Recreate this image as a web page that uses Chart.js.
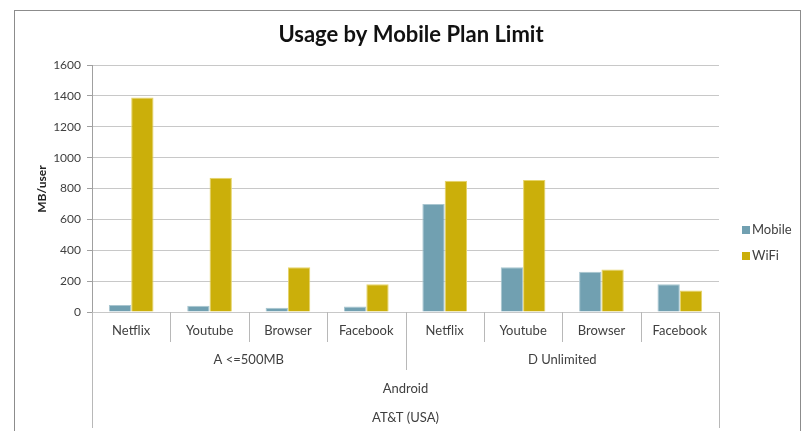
<!DOCTYPE html>
<html>
<head>
<meta charset="utf-8">
<script src="https://cdn.jsdelivr.net/npm/chart.js@4"></script>
<style>
  html, body { margin: 0; padding: 0; background: #fff; }
  #wrap { width: 807px; height: 431px; position: relative; }
</style>
</head>
<body>
<div id="wrap"><canvas id="chart"></canvas></div>
<script>
const apps = ['Netflix', 'Youtube', 'Browser', 'Facebook', 'Netflix', 'Youtube', 'Browser', 'Facebook'];
const plans = ['A <=500MB', 'D Unlimited'];
const platform = 'Android';
const carrier = 'AT&T (USA)';
const mobileUsage = [45, 40, 28, 35, 700, 290, 260, 180];
const wifiUsage = [1390, 870, 290, 180, 850, 855, 275, 140];
const yTicks = [0, 200, 400, 600, 800, 1000, 1200, 1400, 1600];

const FONT = 'Lato, Carlito, "Open Sans", sans-serif';
const TEXT = '#404040';
const LINE = '#b8b8b8';

// frame, title, axis title, legend and the nested category labels
const decorations = {
    id: 'decorations',
    beforeDraw(chart) {
        const ctx = chart.ctx;
        ctx.save();
        ctx.fillStyle = '#fff';
        ctx.fillRect(0, 0, chart.width, chart.height);
        ctx.strokeStyle = '#8c8c8c';
        ctx.lineWidth = 1;
        ctx.strokeRect(14.5, 10.5, 786, 430);
        ctx.restore();
    },
    afterDraw(chart) {
        const ctx = chart.ctx;
        const x = chart.scales.x;
        const area = chart.chartArea;
        const n = apps.length;
        const edge = i => area.left + (area.right - area.left) * i / n;

        ctx.save();
        ctx.fillStyle = '#111';
        ctx.font = 'bold 22px ' + FONT;
        ctx.textAlign = 'center';
        ctx.textBaseline = 'middle';
        ctx.fillText('Usage by Mobile Plan Limit', 411, 35);

        ctx.translate(42, 189);
        ctx.rotate(-Math.PI / 2);
        ctx.font = 'bold 12px ' + FONT;
        ctx.fillStyle = '#222';
        ctx.fillText('MB/user', 0, 0);
        ctx.restore();

        ctx.save();
        ctx.strokeStyle = LINE;
        ctx.lineWidth = 1;
        const half = Math.round(n / 2);
        for (let i = 0; i <= n; i++) {
            const px = Math.round(edge(i)) + 0.5;
            let bottom = area.bottom + 30;
            if (i === 0 || i === n) bottom = 428;
            else if (i === half) bottom = area.bottom + 58;
            ctx.beginPath();
            ctx.moveTo(px, area.bottom);
            ctx.lineTo(px, bottom);
            ctx.stroke();
        }

        ctx.fillStyle = TEXT;
        ctx.font = '13px ' + FONT;
        ctx.textAlign = 'center';
        ctx.textBaseline = 'middle';
        apps.forEach((a, i) => ctx.fillText(a, x.getPixelForValue(i), area.bottom + 19));
        plans.forEach((p, j) => {
            const c = (edge(j * half) + edge((j + 1) * half)) / 2;
            ctx.fillText(p, c, area.bottom + 48);
        });
        const mid = (area.left + area.right) / 2;
        ctx.fillText(platform, mid, area.bottom + 77);
        ctx.fillText(carrier, mid, area.bottom + 106);

        // legend
        const items = [['Mobile', '#71a0b1'], ['WiFi', '#cbaf0a']];
        ctx.textAlign = 'left';
        items.forEach((it, k) => {
            const ly = 230 + k * 26;
            ctx.fillStyle = it[1];
            ctx.fillRect(742, ly - 4, 8, 8);
            ctx.fillStyle = TEXT;
            ctx.fillText(it[0], 752, ly);
        });
        ctx.restore();
    }
};

new Chart(document.getElementById('chart'), {
    type: 'bar',
    data: {
        labels: apps,
        datasets: [{
            label: 'Mobile',
            data: mobileUsage,
            backgroundColor: '#71a0b1',
            borderColor: '#a9c6d0',
            borderWidth: 1
        }, {
            label: 'WiFi',
            data: wifiUsage,
            backgroundColor: '#cbaf0a',
            borderColor: '#e6d46a',
            borderWidth: 1
        }]
    },
    options: {
        responsive: true,
        maintainAspectRatio: false,
        animation: false,
        layout: { padding: { top: 65, right: 88, bottom: 119, left: 0 } },
        datasets: { bar: { categoryPercentage: 0.57, barPercentage: 1 } },
        plugins: {
            legend: { display: false },
            title: { display: false },
            tooltip: { enabled: false }
        },
        scales: {
            x: { display: false },
            y: {
                min: 0,
                max: 1600,
                afterFit: s => { s.width = 92; },
                afterBuildTicks: s => { s.ticks = yTicks.map(v => ({ value: v })); },
                border: { display: true, color: '#a0a0a0' },
                grid: { color: '#c8c8c8', tickLength: 5, tickColor: '#a0a0a0' },
                ticks: {
                    color: TEXT,
                    font: { family: FONT, size: 12 },
                    padding: 6,
                    callback: v => String(v)
                }
            }
        }
    },
    plugins: [decorations]
});
</script>
</body>
</html>
